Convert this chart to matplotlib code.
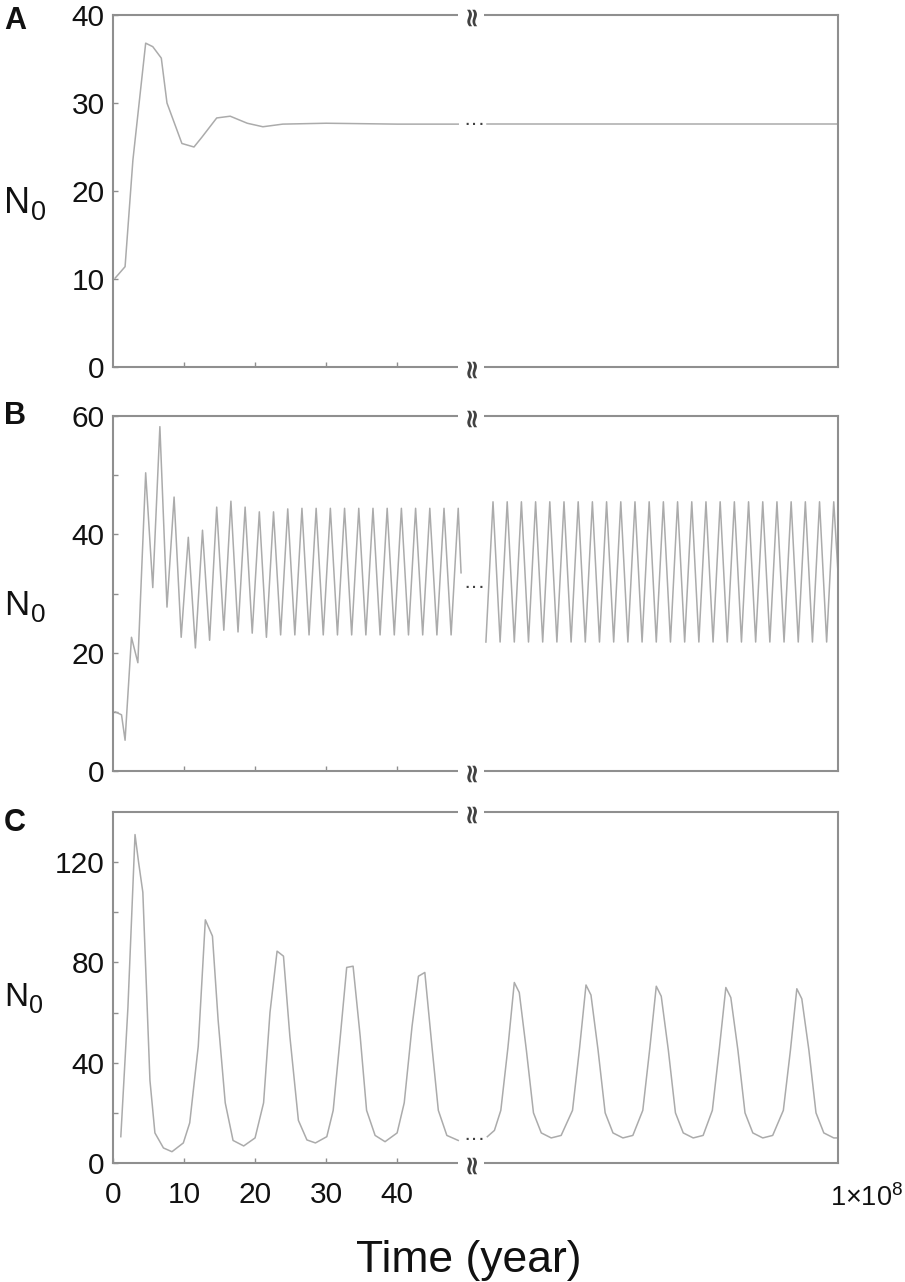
import numpy as np
import matplotlib
matplotlib.use('Agg')
import matplotlib.pyplot as plt

plt.rcParams['font.family'] = ['Liberation Sans', 'DejaVu Sans']
plt.rcParams['mathtext.fontset'] = 'custom'
plt.rcParams['mathtext.rm'] = 'Liberation Sans'
plt.rcParams['mathtext.it'] = 'Liberation Sans:italic'
plt.rcParams['mathtext.bf'] = 'Liberation Sans:bold'

T_END = 1e8  # end of the long-run window (years)
T_END_LABEL = '1×10$^{8}$'

# ---------------- Panel A ----------------
a_t_left = [0.3, 1.7, 2.8, 4.6, 5.6, 6.8, 7.6, 9.7, 11.4, 12.5, 14.6, 16.5,
            18.9, 21.1, 23.9, 30.0, 40.0, 48.6]
a_n_left = [10.1, 11.4, 23.5, 36.8, 36.4, 35.1, 30.0, 25.4, 25.0, 26.1, 28.3,
            28.5, 27.7, 27.3, 27.6, 27.7, 27.6, 27.6]
a_t_right_off = [-49.4, 0.0]
a_n_right = [27.6, 27.6]
a_dots = 27.6

# ---------------- Panel B ----------------
b_t_left = [0.3, 1.2, 1.7, 2.6, 3.5] + list(np.arange(4.6, 48.65, 1.0)) + [49.0]
b_n_left = ([10.0, 9.5, 5.2, 22.6, 18.3,
             50.4, 31.0, 58.2, 27.7, 46.3, 22.6, 39.5, 20.8, 40.7, 22.1, 44.6,
             23.8, 45.6, 23.5, 44.6, 23.3, 43.8, 22.6, 43.8, 23.0, 44.3, 23.0]
            + [44.4, 23.0] * 11 + [44.4] + [33.5])
b_t_right_off = list(np.arange(-49.6, -0.55, 1.0)) + [0.0]
b_n_right = [21.8, 45.5] * 25 + [33.5]
b_dots = 31.0

# ---------------- Panel C ----------------
c_t_left = [1.1, 2.1, 3.1, 3.6, 4.2, 4.7, 5.2, 5.9, 7.1, 8.3, 9.9, 10.8, 12.0,
            13.0, 14.0, 14.8, 15.8, 16.9, 18.4, 20.0, 21.2, 22.1, 23.1, 24.0,
            24.9, 26.1, 27.3, 28.5, 30.1, 31.0, 32.0, 32.9, 33.8, 34.8, 35.7,
            36.9, 38.3, 40.0, 41.0, 42.1, 43.0, 43.9, 44.9, 45.8, 47.0, 48.6]
c_n_left = [10.5, 62, 131, 120, 108, 70.5, 33, 12, 6, 4.5, 8, 16, 46.5, 97,
            90.5, 57, 24, 9, 6.8, 10, 24, 60, 84.5, 82.5, 50.5, 17, 9.2, 8,
            10.5, 21, 50.5, 78, 78.5, 50.5, 21, 11, 8.5, 12, 24, 54.5, 74.5,
            76, 46.5, 21, 11, 9]
c_t_right_off = [-49.4, -48.4, -47.5, -46.5, -45.6, -44.9, -43.9, -42.9, -41.8, -40.4, -39.0,
                 -37.4, -36.4, -35.5, -34.8, -33.8, -32.8, -31.7, -30.3, -28.9,
                 -27.5, -26.5, -25.6, -24.9, -23.9, -22.9, -21.8, -20.4, -19.0,
                 -17.7, -16.7, -15.8, -15.1, -14.1, -13.1, -12.0, -10.6, -9.2,
                 -7.7, -6.7, -5.8, -5.1, -4.1, -3.1, -2.0, -0.6, 0.0]
c_n_right = [10.5, 13, 21, 46, 72, 68, 45, 20, 12, 10, 11,
             21, 46, 71, 67, 45, 20, 12, 10, 11,
             21, 46, 70.5, 66.5, 45, 20, 12, 10, 11,
             21, 46, 70, 66, 45, 20, 12, 10, 11,
             21, 45, 69.5, 65.5, 45, 20, 12, 10, 10]
c_dots = 9.2

x_ticks_left = [10, 20, 30, 40]
x_ticklabels_c = ['0', '10', '20', '30', '40']

panels = [
    dict(letter='A', tl=a_t_left, nl=a_n_left, tr=a_t_right_off, nr=a_n_right, dots=a_dots,
         ylim=(0, 40), major=[0, 10, 20, 30, 40], minor=[],
         rect_px=(15, 367), nsize=26, n_base=213, sub_x=31, sub_base=220, letter_top=6),
    dict(letter='B', tl=b_t_left, nl=b_n_left, tr=b_t_right_off, nr=b_n_right, dots=b_dots,
         ylim=(0, 60), major=[0, 20, 40, 60], minor=[10, 30, 50],
         rect_px=(416, 771), nsize=25, n_base=615, sub_x=31, sub_base=622, letter_top=401),
    dict(letter='C', tl=c_t_left, nl=c_n_left, tr=c_t_right_off, nr=c_n_right, dots=c_dots,
         ylim=(0, 140), major=[0, 40, 80, 120], minor=[20, 60, 100],
         rect_px=(812, 1163), nsize=24, n_base=1006, sub_x=29, sub_base=1013, letter_top=808),
]

W, H = 905, 1282
fig = plt.figure(figsize=(W / 100, H / 100), dpi=100)

X_L, X_B, X_R = 113, 471, 838
LEFT_SPAN = 50.4
RIGHT_SPAN = 51.7

spine_c = '#8f8f8f'
line_c = '#ababab'
mark_c = '#404040'

for i, p in enumerate(panels):
    top_px, bot_px = p['rect_px']
    b = 1 - bot_px / H
    h = (bot_px - top_px) / H
    axL = fig.add_axes([X_L / W, b, (X_B - X_L) / W, h])
    axR = fig.add_axes([X_B / W, b, (X_R - X_B) / W, h])
    axR.patch.set_visible(False)

    axL.plot(p['tl'], p['nl'], color=line_c, lw=1.1)
    axR.plot([T_END + o for o in p['tr']], p['nr'], color=line_c, lw=1.1)

    axL.set_xlim(0, LEFT_SPAN)
    axR.set_xlim(T_END - RIGHT_SPAN, T_END)
    for ax in (axL, axR):
        ax.set_ylim(*p['ylim'])
        for s in ax.spines.values():
            s.set_color(spine_c)
            s.set_linewidth(1.5)
    axL.spines['right'].set_visible(False)
    axR.spines['left'].set_visible(False)

    axL.set_yticks(p['major'])
    axL.set_yticks(p['minor'], minor=True)
    axL.set_xticks(x_ticks_left)
    axL.tick_params(axis='both', which='both', direction='in', length=3.5, width=1,
                    color=spine_c, labelsize=21.5, labelcolor='#111111')
    axL.tick_params(axis='y', pad=6)
    axL.tick_params(axis='x', pad=13)
    axR.tick_params(axis='y', which='both', left=False, labelleft=False)
    axR.set_xticks([])
    if p['letter'] == 'C':
        axL.set_xticks([0] + x_ticks_left)
        axL.set_xticklabels(x_ticklabels_c)
        # label for the end of the long-run window, right of the axis end
        fig.text(903 / W, 1 - 1206 / H, T_END_LABEL, fontsize=19.5, ha='right',
                 va='baseline', color='#111111')
    else:
        axL.tick_params(axis='x', labelbottom=False)

    # break marks on top and bottom spines
    for ypx in (top_px, bot_px):
        fig.text(X_B / W, 1 - ypx / H, '≈', rotation=90, ha='center', va='center',
                 fontsize=19, fontweight='bold', color=mark_c, family='DejaVu Sans',
                 zorder=10,
                 bbox=dict(facecolor='white', edgecolor='none', pad=0.2))
    # dots in the data gap
    y_dot_px = bot_px - (p['dots'] - p['ylim'][0]) / (p['ylim'][1] - p['ylim'][0]) * (bot_px - top_px)
    fig.text((X_B + 3) / W, 1 - y_dot_px / H, '···', ha='center', va='center',
             fontsize=16, color=mark_c, zorder=10)

    # panel letter
    fig.text(4 / W, 1 - p['letter_top'] / H, p['letter'], fontsize=22,
             fontweight='bold', ha='left', va='top', color='#111111')
    # y label N0
    fig.text(4 / W, 1 - p['n_base'] / H, 'N', fontsize=p['nsize'], ha='left',
             va='baseline', color='#111111')
    fig.text(p['sub_x'] / W, 1 - p['sub_base'] / H, '0', fontsize=p['nsize'] * 0.75,
             ha='left', va='baseline', color='#111111')

fig.text(469 / W, 1 - 1272 / H, 'Time (year)', fontsize=32, ha='center',
         va='baseline', color='#111111')

fig.savefig('out.png', dpi=100, facecolor='white')
